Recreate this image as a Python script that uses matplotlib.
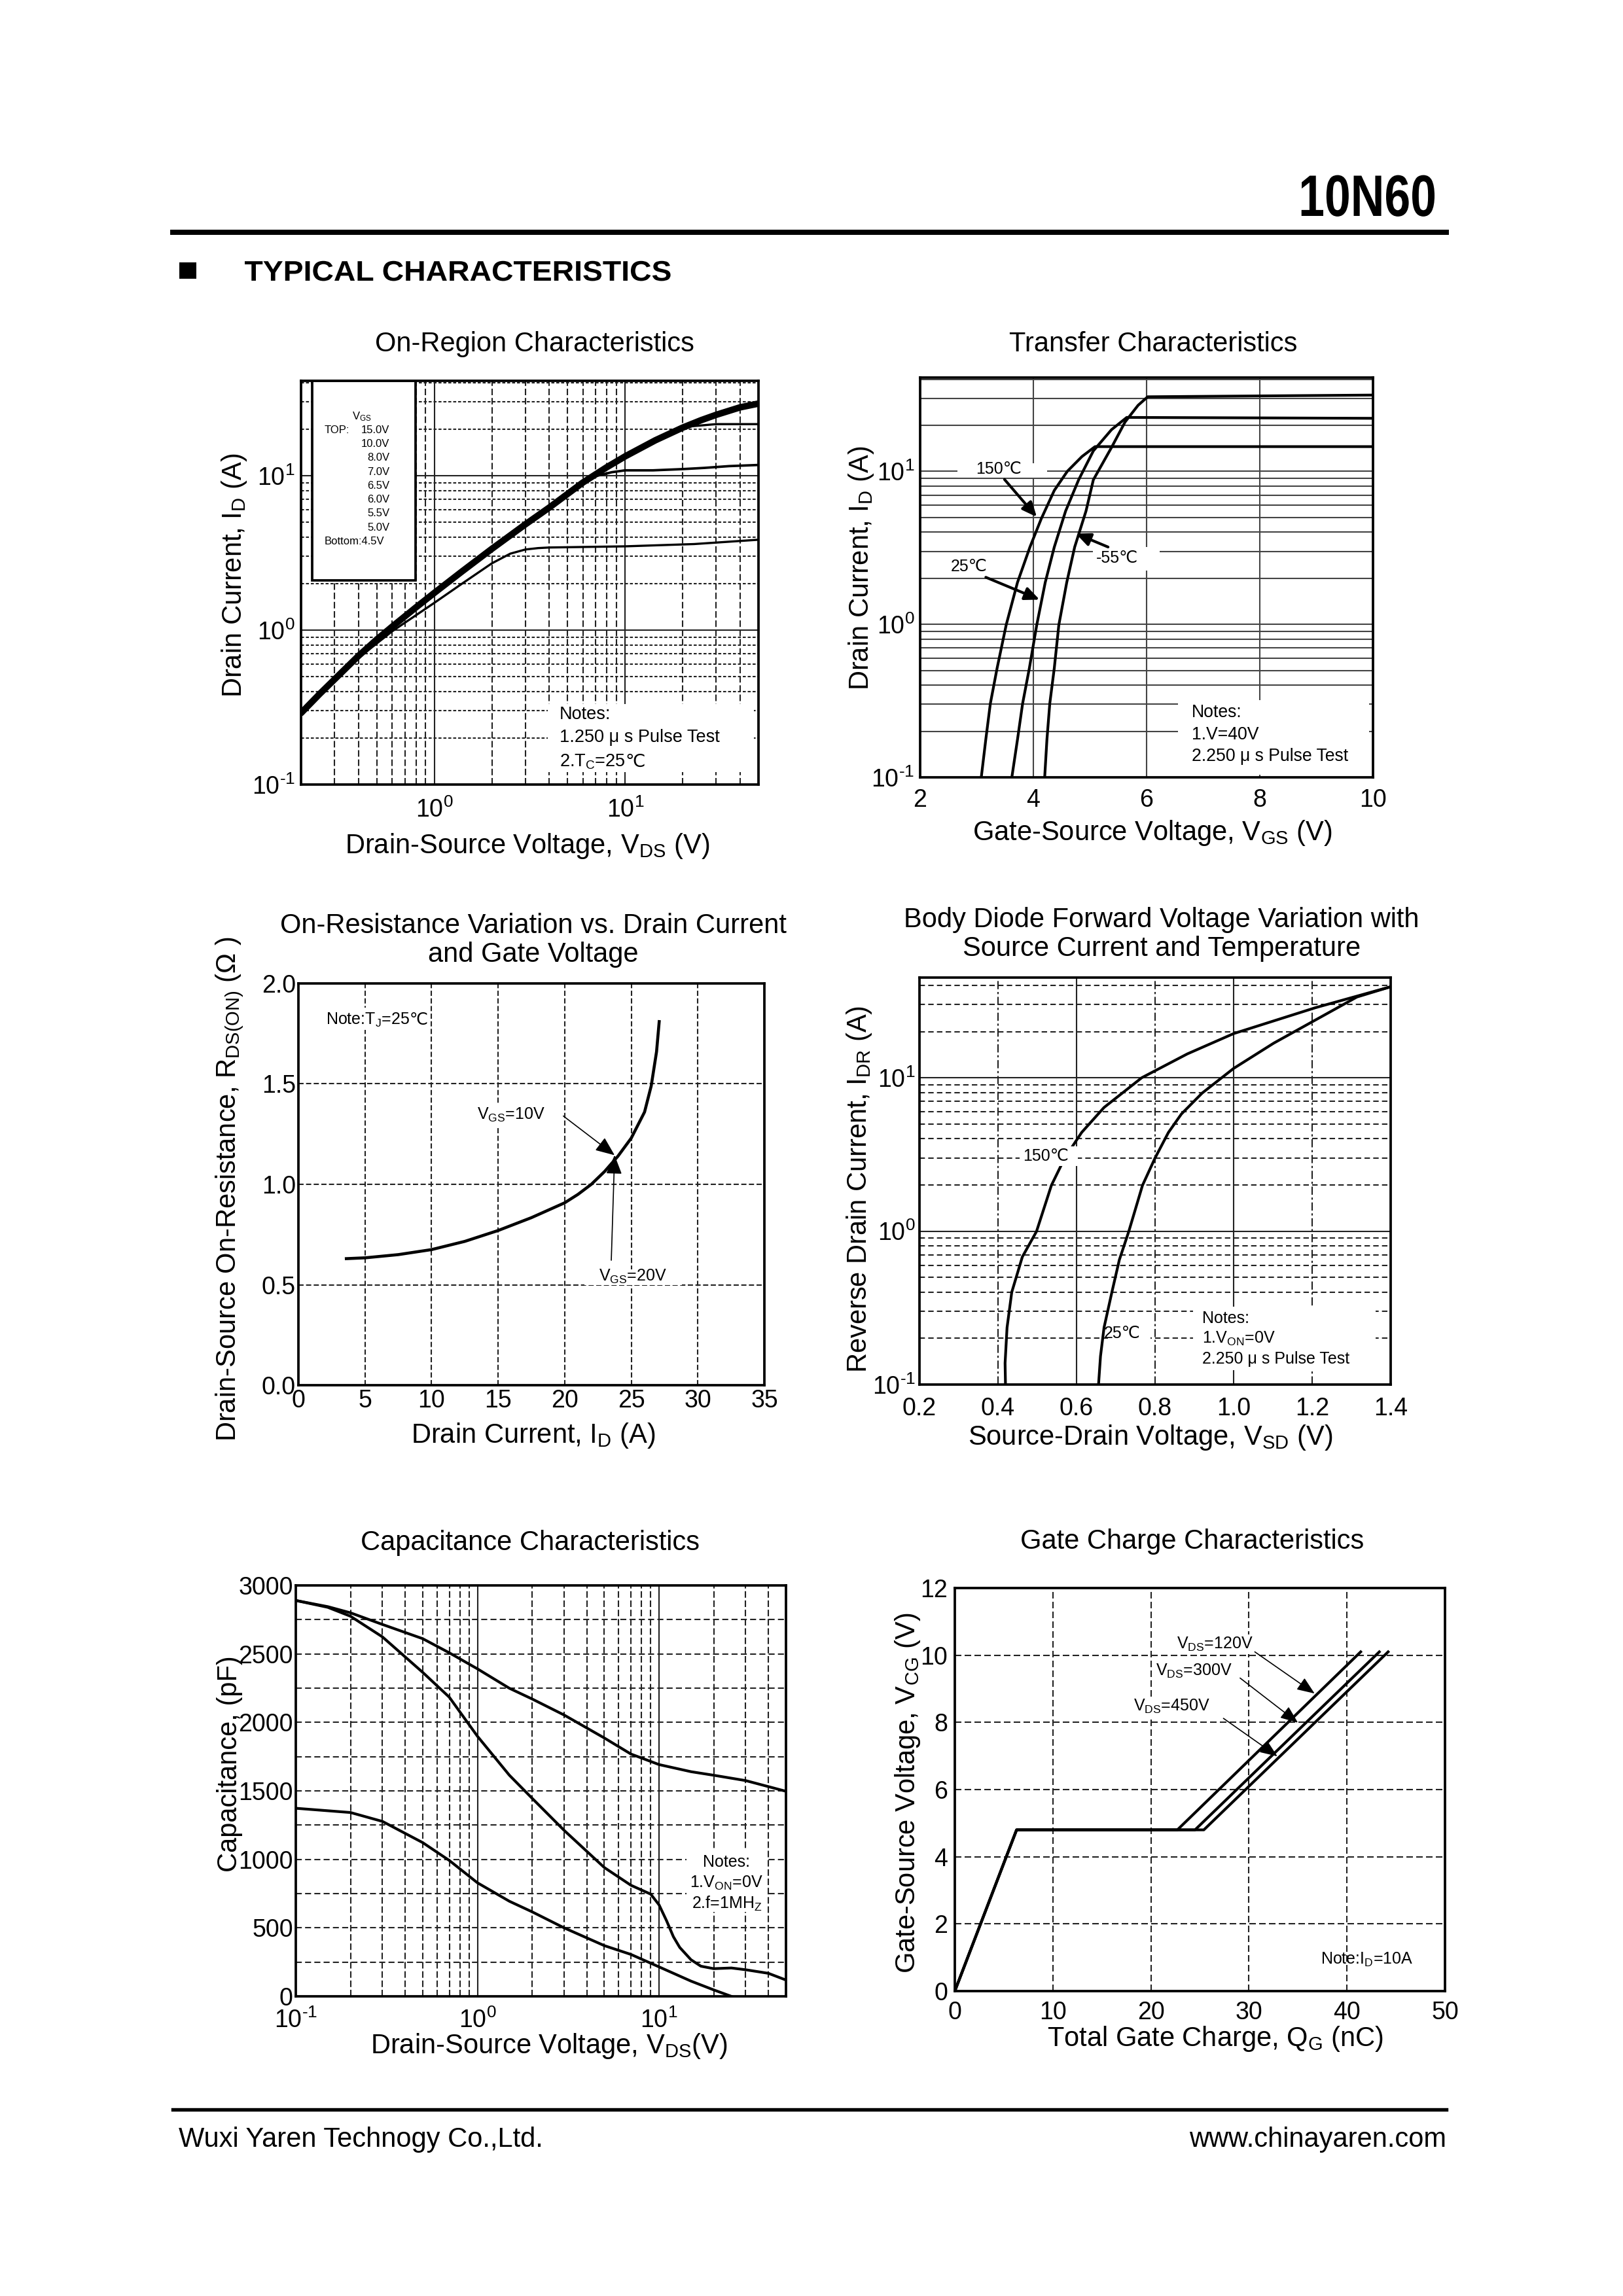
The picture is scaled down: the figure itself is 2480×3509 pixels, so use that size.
import numpy as np
import matplotlib
matplotlib.use('Agg')
import matplotlib.pyplot as plt
from matplotlib.patches import Rectangle, PathPatch
from matplotlib.lines import Line2D
from matplotlib.textpath import TextPath
from matplotlib.font_manager import FontProperties
from matplotlib.transforms import Affine2D
from matplotlib.ticker import NullFormatter, MultipleLocator, FormatStrFormatter, FuncFormatter

plt.rcParams['font.family'] = ['Liberation Sans', 'DejaVu Sans']
plt.rcParams['mathtext.fontset'] = 'custom'
plt.rcParams['mathtext.rm'] = 'Liberation Sans'
plt.rcParams['mathtext.it'] = 'Liberation Sans:italic'
plt.rcParams['mathtext.bf'] = 'Liberation Sans:bold'
plt.rcParams['mathtext.default'] = 'regular'
plt.rcParams['axes.unicode_minus'] = False
plt.rcParams['lines.scale_dashes'] = False

# ---- data ----
# on-region
vds_on = [0.2, 0.25, 0.3, 0.4, 0.5, 0.6, 0.8, 1.0, 1.4, 2.0, 3.0, 4.0, 6.0, 8.0, 10, 14.4, 20, 25, 30, 40, 50]
id_top = [0.29, 0.385, 0.48, 0.68, 0.87, 1.05, 1.40, 1.74, 2.40, 3.35, 4.83, 6.2, 9.0, 11.3, 13.3, 16.9, 20.4,
          22.8, 24.7, 27.6, 29.2]
vds_8v = [10, 14.4, 18, 22, 30, 50]
id_8v = [13.3, 16.9, 19.4, 20.8, 21.5, 21.5]
vds_7v = [6, 7, 8.5, 10, 14, 20, 26, 35, 50]
id_7v = [9.0, 9.9, 10.5, 10.8, 10.8, 11.0, 11.2, 11.5, 11.7]
vds_low = [0.3, 0.4, 0.6, 1.0, 1.4, 2.0, 2.5, 3.0, 3.5, 4.0, 10, 23, 50]
id_low = [0.48, 0.66, 0.98, 1.50, 2.0, 2.70, 3.12, 3.32, 3.39, 3.42, 3.48, 3.6, 3.84]
vgs_steps = ['15.0V', '10.0V', '8.0V', '7.0V', '6.5V', '6.0V', '5.5V', '5.0V']

# transfer
vgs_150 = [3.08, 3.16, 3.24, 3.36, 3.52, 3.72, 3.94, 4.14, 4.37, 4.6, 4.86, 5.09, 10]
id_150 = [0.1, 0.177, 0.303, 0.518, 0.99, 1.88, 3.2, 4.9, 7.5, 10.0, 12.5, 14.5, 14.5]
vgs_25 = [3.62, 3.72, 3.81, 3.93, 4.06, 4.21, 4.37, 4.57, 4.8, 5.06, 5.38, 5.65, 10]
id_25 = [0.1, 0.177, 0.303, 0.518, 0.99, 1.88, 3.2, 5.5, 8.8, 13.6, 18.7, 22.5, 22.2]
vgs_m55 = [4.2, 4.24, 4.29, 4.37, 4.45, 4.59, 4.73, 4.93, 5.06, 5.38, 5.62, 5.85, 6.02, 10]
id_m55 = [0.1, 0.177, 0.303, 0.518, 0.99, 1.88, 3.2, 5.5, 8.8, 14.3, 21.0, 27.0, 30.7, 31.5]

# on-resistance
id_r = [3.6, 5, 7.5, 10, 12.5, 15, 17.5, 20, 21, 22, 23, 24, 25, 26, 26.5, 26.9, 27.1]
rds = [0.63, 0.634, 0.65, 0.675, 0.716, 0.77, 0.834, 0.908, 0.95, 1.0, 1.064, 1.14, 1.23, 1.36, 1.49, 1.66, 1.81]

# body diode
vsd_150 = [0.419, 0.418, 0.423, 0.435, 0.462, 0.498, 0.536, 0.57, 0.613, 0.67, 0.766, 0.882, 1.0, 1.208, 1.4]
idr_150 = [0.1, 0.138, 0.235, 0.40, 0.68, 0.995, 1.99, 3.0, 4.4, 6.4, 10, 14.3, 19.4, 28.6, 39.2]
vsd_25 = [0.656, 0.661, 0.67, 0.69, 0.709, 0.733, 0.768, 0.8, 0.834, 0.867, 0.92, 1.0, 1.102, 1.198, 1.314, 1.4]
idr_25 = [0.1, 0.153, 0.235, 0.40, 0.65, 0.995, 1.99, 3.0, 4.4, 5.8, 7.95, 11.5, 16.8, 23, 33.6, 39.2]

# capacitance
vds_c = [0.1, 0.15, 0.2, 0.3, 0.5, 0.7, 1, 1.5, 2, 3, 5, 7, 10, 15, 20, 30, 50]
ciss = [2890, 2845, 2800, 2715, 2611, 2508, 2391, 2249, 2171, 2054, 1886, 1769, 1692, 1640, 1614, 1575, 1497]
vds_coss = [0.1, 0.15, 0.2, 0.3, 0.5, 0.7, 1, 1.5, 2, 3, 5, 7, 9, 10, 11, 12, 13, 15, 17, 20, 25, 30, 40, 50]
coss = [2890, 2840, 2775, 2624, 2365, 2184, 1899, 1614, 1446, 1212, 940, 811, 746, 668, 552, 435, 357, 267, 220,
        202, 207, 194, 168, 119]
vds_crss = [0.1, 0.2, 0.3, 0.5, 0.7, 1, 1.5, 2, 3, 5, 7, 10, 15, 20, 25]
crss = [1373, 1342, 1277, 1122, 992, 829, 694, 617, 500, 370, 306, 215, 111, 47, 0]

# gate charge
qg_120 = [0, 6.3, 22.7, 41.4]
qg_300 = [0, 6.3, 24.5, 43.3]
qg_450 = [0, 6.3, 25.4, 44.2]
vg_q = [0, 4.8, 4.8, 10.1]

W, H = 2480, 3509
fig = plt.figure(figsize=(W / 300, H / 300), dpi=300)
fig.patch.set_facecolor('white')


def fx(x):
    return x / W


def fy(y):
    return 1 - y / H


def logfmt(v, pos):
    e = int(round(np.log10(v)))
    if e < 0:
        return '$10^{\\text{-}%d}$' % (-e)
    return '$10^{%d}$' % e


def box(l, t, r, b, xpad=3.5, ypad=2.2):
    ax = fig.add_axes([l / W, 1 - b / H, (r - l) / W, (b - t) / H])
    for s in ax.spines.values():
        s.set_linewidth(0.9)
        s.set_zorder(5)
    ax.tick_params(which='both', length=0, labelsize=9)
    ax.tick_params(axis='x', pad=xpad)
    ax.tick_params(axis='y', pad=ypad)
    return ax


def white(ax, x0, y0, w, h, z=1.8):
    ax.add_patch(Rectangle((x0, y0), w, h, transform=ax.transAxes, fc='white', ec='none', zorder=z))


def arrow(ax, start, end, lw=0.5, hl=0.5, hw=0.22):
    ax.annotate('', xy=end, xytext=start,
                arrowprops=dict(arrowstyle='-|>,head_length=%s,head_width=%s' % (hl, hw),
                                lw=lw, color='k', shrinkA=0, shrinkB=0, mutation_scale=10),
                zorder=6)


def with_celsius(ax, x, y, s, size):
    # mathtext part first, the degree sign after it as plain text (own font fallback)
    t = ax.text(x, y, s, transform=ax.transAxes, fontsize=size, ha='left', va='baseline', zorder=6)
    ax.annotate('℃', xy=(1.0, y), xycoords=(t, ax.transAxes), fontsize=size,
                ha='left', va='baseline', zorder=6)


def stretched(s, x, y, cap, sx, align='left'):
    # text drawn as a path so it can be squeezed / widened like the datasheet font
    tp = TextPath((0, 0), s, size=1, prop=FontProperties(family='Liberation Sans', weight='bold'))
    ext = tp.get_extents()
    em = cap / 0.716
    w = ext.x1 * em * sx
    x0 = x - w if align == 'right' else x - ext.x0 * em * sx
    tr = Affine2D().scale(em * sx, em).translate(x0, H - y)
    fig.add_artist(PathPatch(tp, transform=tr, fc='k', ec='none'))


gc = '#222222'
dash_v = (0, (2.4, 1.0))
dash_h = (0, (1.1, 0.7))
clw = 1.0

# ---------------- On-Region ----------------
ax1 = box(460, 582, 1159, 1199, xpad=5, ypad=2.2)
ax1.set_xscale('log')
ax1.set_yscale('log')
ax1.set_xlim(0.2, 50)
ax1.set_ylim(0.1, 41)
ax1.xaxis.set_major_formatter(FuncFormatter(logfmt))
ax1.yaxis.set_major_formatter(FuncFormatter(logfmt))
ax1.xaxis.set_minor_formatter(NullFormatter())
ax1.yaxis.set_minor_formatter(NullFormatter())
ax1.grid(which='major', color=gc, lw=0.5, ls='-')
ax1.grid(which='minor', axis='x', color=gc, lw=0.5, ls=dash_v)
ax1.grid(which='minor', axis='y', color=gc, lw=0.5, ls=dash_h)
ax1.plot(vds_low, id_low, color='k', lw=0.8, zorder=3)
ax1.plot(vds_7v, id_7v, color='k', lw=0.9, zorder=3)
ax1.plot(vds_8v, id_8v, color='k', lw=0.8, zorder=3)
ax1.plot(vds_on, id_top, color='k', lw=2.4, zorder=4, solid_capstyle='round')
ax1.add_patch(Rectangle((0.025, 0.505), 0.225, 0.495, transform=ax1.transAxes,
                        fc='white', ec='k', lw=0.9, zorder=4))
lg = 4.0
ax1.text(0.132, 0.911, 'V$_{GS}$', transform=ax1.transAxes, fontsize=lg, ha='center', va='center', zorder=6)
ax1.text(0.051, 0.878, 'TOP:', transform=ax1.transAxes, fontsize=lg, ha='left', va='center', zorder=6)
for i, s in enumerate(vgs_steps):
    ax1.text(0.194, 0.878 - i * 0.0345, s, transform=ax1.transAxes, fontsize=lg,
             ha='right', va='center', zorder=6)
ax1.text(0.051, 0.878 - 8 * 0.0345, 'Bottom:4.5V', transform=ax1.transAxes, fontsize=lg,
         ha='left', va='center', zorder=6)
white(ax1, 0.54, 0.03, 0.45, 0.17)
for i, s in enumerate(['Notes:', '1.250 μ s Pulse Test']):
    ax1.text(0.565, 0.173 - i * 0.057, s, transform=ax1.transAxes, fontsize=6.5,
             ha='left', va='center', zorder=6)
with_celsius(ax1, 0.565, 0.173 - 2 * 0.057 - 0.015, '2.T$_C$=25', 6.5)

# ---------------- Transfer ----------------
ax2 = box(1406, 577, 2098, 1188, xpad=4, ypad=2)
ax2.set_yscale('log')
ax2.set_xlim(2, 10)
ax2.set_ylim(0.1, 41)
ax2.xaxis.set_major_locator(MultipleLocator(2))
ax2.yaxis.set_major_formatter(FuncFormatter(logfmt))
ax2.yaxis.set_minor_formatter(NullFormatter())
ax2.grid(which='both', axis='y', color='#444444', lw=0.5, ls='-')
ax2.grid(which='major', axis='x', color='#444444', lw=0.5, ls='-')
ax2.plot(vgs_150, id_150, color='k', lw=clw, zorder=3)
ax2.plot(vgs_25, id_25, color='k', lw=clw, zorder=3)
ax2.plot(vgs_m55, id_m55, color='k', lw=clw, zorder=3)
white(ax2, 0.083, 0.749, 0.197, 0.036)
white(ax2, 0.382, 0.518, 0.147, 0.058)
white(ax2, 0.57, 0.006, 0.422, 0.187)
ax2.text(0.173, 0.771, '150℃', transform=ax2.transAxes, fontsize=6, ha='center', va='center', zorder=6)
ax2.text(0.108, 0.527, '25℃', transform=ax2.transAxes, fontsize=6, ha='center', va='center', zorder=6)
ax2.text(0.435, 0.549, '-55℃', transform=ax2.transAxes, fontsize=6, ha='center', va='center', zorder=6)
arrow(ax2, (3.49, 8.85), (4.06, 5.03), lw=1.0, hl=0.45, hw=0.2)
arrow(ax2, (3.16, 2.03), (4.11, 1.45), lw=1.0, hl=0.45, hw=0.2)
arrow(ax2, (5.32, 3.2), (4.75, 3.92), lw=1.0, hl=0.45, hw=0.2)
for i, s in enumerate(['Notes:', '1.V=40V', '2.250 μ s Pulse Test']):
    ax2.text(0.599, 0.162 - i * 0.055, s, transform=ax2.transAxes, fontsize=6.4,
             ha='left', va='center', zorder=6)

# ---------------- On-Resistance ----------------
ax3 = box(456, 1503, 1168, 2117, xpad=1.5, ypad=1.0)
ax3.set_xlim(0, 35)
ax3.set_ylim(0, 2.0)
ax3.xaxis.set_major_locator(MultipleLocator(5))
ax3.yaxis.set_major_locator(MultipleLocator(0.5))
ax3.yaxis.set_major_formatter(FormatStrFormatter('%.1f'))
ax3.grid(which='major', color=gc, lw=0.5, ls=(0, (1.9, 0.9)))
ax3.plot(id_r, rds, color='k', lw=1.1, zorder=3)
white(ax3, 0.05, 0.885, 0.22, 0.055)
white(ax3, 0.38, 0.645, 0.17, 0.055)
white(ax3, 0.614, 0.249, 0.209, 0.04)
with_celsius(ax3, 0.059, 0.912 - 0.014, 'Note:T$_J$=25', 6)
ax3.text(0.457, 0.673, 'V$_{GS}$=10V', transform=ax3.transAxes, fontsize=6, ha='center', va='center', zorder=6)
ax3.text(0.718, 0.271, 'V$_{GS}$=20V', transform=ax3.transAxes, fontsize=6, ha='center', va='center', zorder=6)
arrow(ax3, (19.9, 1.34), (23.75, 1.145), lw=0.4, hl=0.6, hw=0.25)
arrow(ax3, (23.5, 0.622), (23.75, 1.145), lw=0.4, hl=0.6, hw=0.25)

# ---------------- Body diode ----------------
ax4 = box(1405, 1494, 2125, 2116, xpad=4.5, ypad=1.5)
ax4.set_yscale('log')
ax4.set_xlim(0.2, 1.4)
ax4.set_ylim(0.1, 45)
ax4.xaxis.set_major_locator(MultipleLocator(0.2))
ax4.xaxis.set_major_formatter(FormatStrFormatter('%.1f'))
ax4.yaxis.set_major_formatter(FuncFormatter(logfmt))
ax4.yaxis.set_minor_formatter(NullFormatter())
ax4.grid(which='major', axis='y', color=gc, lw=0.5, ls='-')
ax4.grid(which='minor', axis='y', color=gc, lw=0.5, ls=(0, (2.0, 1.2)))
for v in [0.4, 0.8, 1.2]:
    ax4.axvline(v, color=gc, lw=0.5, ls=(0, (3.0, 1.0, 0.8, 1.0)), zorder=1.5)
for v in [0.6, 1.0]:
    ax4.axvline(v, color=gc, lw=0.5, ls='-', zorder=1.5)
ax4.plot(vsd_150, idr_150, color='k', lw=clw, zorder=3)
ax4.plot(vsd_25, idr_25, color='k', lw=clw, zorder=3)
white(ax4, 0.212, 0.537, 0.124, 0.048, z=3.5)
white(ax4, 0.40, 0.10, 0.09, 0.05, z=3.5)
white(ax4, 0.58, 0.035, 0.388, 0.157)
ax4.text(0.268, 0.561, '150℃', transform=ax4.transAxes, fontsize=6, ha='center', va='center', zorder=6)
ax4.text(0.43, 0.125, '25℃', transform=ax4.transAxes, fontsize=6, ha='center', va='center', zorder=6)
for i, s in enumerate(['Notes:', '1.V$_{ON}$=0V', '2.250 μ s Pulse Test']):
    ax4.text(0.6, 0.162 - i * 0.05, s, transform=ax4.transAxes, fontsize=6,
             ha='left', va='center', zorder=6)

# ---------------- Capacitance ----------------
ax5 = box(452, 2423, 1201, 3051, xpad=4.5, ypad=1.0)
ax5.set_xscale('log')
ax5.set_xlim(0.1, 50)
ax5.set_ylim(0, 3000)
ax5.xaxis.set_major_formatter(FuncFormatter(logfmt))
ax5.xaxis.set_minor_formatter(NullFormatter())
ax5.yaxis.set_major_locator(MultipleLocator(500))
ax5.yaxis.set_minor_locator(MultipleLocator(250))
ax5.grid(which='major', axis='x', color=gc, lw=0.5, ls='-')
ax5.grid(which='minor', axis='x', color=gc, lw=0.5, ls=dash_v)
ax5.grid(which='both', axis='y', color=gc, lw=0.5, ls=(0, (2.2, 1.2)))
ax5.plot(vds_c, ciss, color='k', lw=clw, zorder=3)
ax5.plot(vds_coss, coss, color='k', lw=clw, zorder=3)
ax5.plot(vds_crss, crss, color='k', lw=clw, zorder=3)
white(ax5, 0.797, 0.206, 0.164, 0.151)
for i, s in enumerate(['Notes:', '1.V$_{ON}$=0V', '2.f=1MH$_Z$']):
    ax5.text(0.879, 0.326 - i * 0.05, s, transform=ax5.transAxes, fontsize=6,
             ha='center', va='center', zorder=6)

# ---------------- Gate charge ----------------
ax6 = box(1459, 2427, 2208, 3043, xpad=3.6, ypad=2.6)
ax6.set_xlim(0, 50)
ax6.set_ylim(0, 12)
ax6.xaxis.set_major_locator(MultipleLocator(10))
ax6.yaxis.set_major_locator(MultipleLocator(2))
ax6.grid(which='major', color=gc, lw=0.5, ls=(0, (2.4, 1.2)))
ax6.plot(qg_120, vg_q, color='k', lw=clw, zorder=3)
ax6.plot(qg_300, vg_q, color='k', lw=clw, zorder=3)
ax6.plot(qg_450, vg_q, color='k', lw=clw, zorder=3)
for q, v, s in [(22.6, 10.33, 'V$_{DS}$=120V'), (20.5, 9.53, 'V$_{DS}$=300V'), (18.2, 8.47, 'V$_{DS}$=450V')]:
    ax6.text(q, v, s, fontsize=6, ha='left', va='center', zorder=6,
             bbox=dict(fc='white', ec='none', pad=0.5))
arrow(ax6, (30.6, 10.1), (36.7, 8.86), lw=0.4, hl=0.55, hw=0.22)
arrow(ax6, (29.1, 9.32), (35.0, 7.99), lw=0.4, hl=0.55, hw=0.22)
arrow(ax6, (27.4, 8.12), (32.9, 6.99), lw=0.4, hl=0.55, hw=0.22)
ax6.text(0.746, 0.078, 'Note:I$_D$=10A', transform=ax6.transAxes, fontsize=6, ha='left', va='center', zorder=6)

# ---------------- titles and axis labels ----------------
tfs = 10
fig.text(fx(817), fy(526), 'On-Region Characteristics', ha='center', va='center', fontsize=tfs)
fig.text(fx(1762), fy(526), 'Transfer Characteristics', ha='center', va='center', fontsize=tfs)
fig.text(fx(815), fy(1437), 'On-Resistance Variation vs. Drain Current\nand Gate Voltage',
         ha='center', va='center', fontsize=tfs, linespacing=1.1)
fig.text(fx(1775), fy(1428), 'Body Diode Forward Voltage Variation with\nSource Current and Temperature',
         ha='center', va='center', fontsize=tfs, linespacing=1.1)
fig.text(fx(810), fy(2358), 'Capacitance Characteristics', ha='center', va='center', fontsize=tfs)
fig.text(fx(1822), fy(2356), 'Gate Charge Characteristics', ha='center', va='center', fontsize=tfs)

lfs = 10
fig.text(fx(806), fy(1293), 'Drain-Source Voltage, V$_{DS}$ (V)', ha='center', va='center', fontsize=lfs)
fig.text(fx(358), fy(879), 'Drain Current, I$_D$ (A)', ha='center', va='center', fontsize=lfs, rotation=90)
fig.text(fx(1761), fy(1273), 'Gate-Source Voltage, V$_{GS}$ (V)', ha='center', va='center', fontsize=lfs)
fig.text(fx(1316), fy(868), 'Drain Current, I$_D$ (A)', ha='center', va='center', fontsize=lfs, rotation=90)
fig.text(fx(815), fy(2194), 'Drain Current, I$_D$ (A)', ha='center', va='center', fontsize=lfs)
fig.text(fx(351), fy(1817), 'Drain-Source On-Resistance, R$_{DS(ON)}$ (Ω )', ha='center', va='center',
         fontsize=lfs, rotation=90)
fig.text(fx(1758), fy(2197), 'Source-Drain Voltage, V$_{SD}$ (V)', ha='center', va='center', fontsize=lfs)
fig.text(fx(1313), fy(1817), 'Reverse Drain Current, I$_{DR}$ (A)', ha='center', va='center',
         fontsize=lfs, rotation=90)
fig.text(fx(839), fy(3127), 'Drain-Source Voltage, V$_{DS}$(V)', ha='center', va='center', fontsize=lfs)
fig.text(fx(351), fy(2696), 'Capacitance, (pF)', ha='center', va='center', fontsize=lfs, rotation=90)
fig.text(fx(1857), fy(3116), 'Total Gate Charge, Q$_G$ (nC)', ha='center', va='center', fontsize=lfs)
fig.text(fx(1387), fy(2740), 'Gate-Source Voltage, V$_{CG}$ (V)', ha='center', va='center',
         fontsize=lfs, rotation=90)

# ---------------- page header / footer ----------------
stretched('10N60', 2192, 330, 64, 0.80, align='right')
fig.add_artist(Line2D([fx(264), fx(2210)], [fy(355), fy(355)], lw=1.9, color='k'))
fig.add_artist(Rectangle((fx(274), fy(426)), 26 / W, 25 / H, fc='k', ec='none', transform=fig.transFigure))
stretched('TYPICAL CHARACTERISTICS', 374, 429, 31, 1.07, align='left')
fig.add_artist(Line2D([fx(264), fx(2210)], [fy(3224), fy(3224)], lw=1.3, color='k'))
fig.text(fx(273), fy(3270), 'Wuxi Yaren Technogy Co.,Ltd.', ha='left', va='center', fontsize=10)
fig.text(fx(2210), fy(3270), 'www.chinayaren.com', ha='right', va='center', fontsize=10)

fig.savefig('out.png', dpi=300, facecolor='white')
